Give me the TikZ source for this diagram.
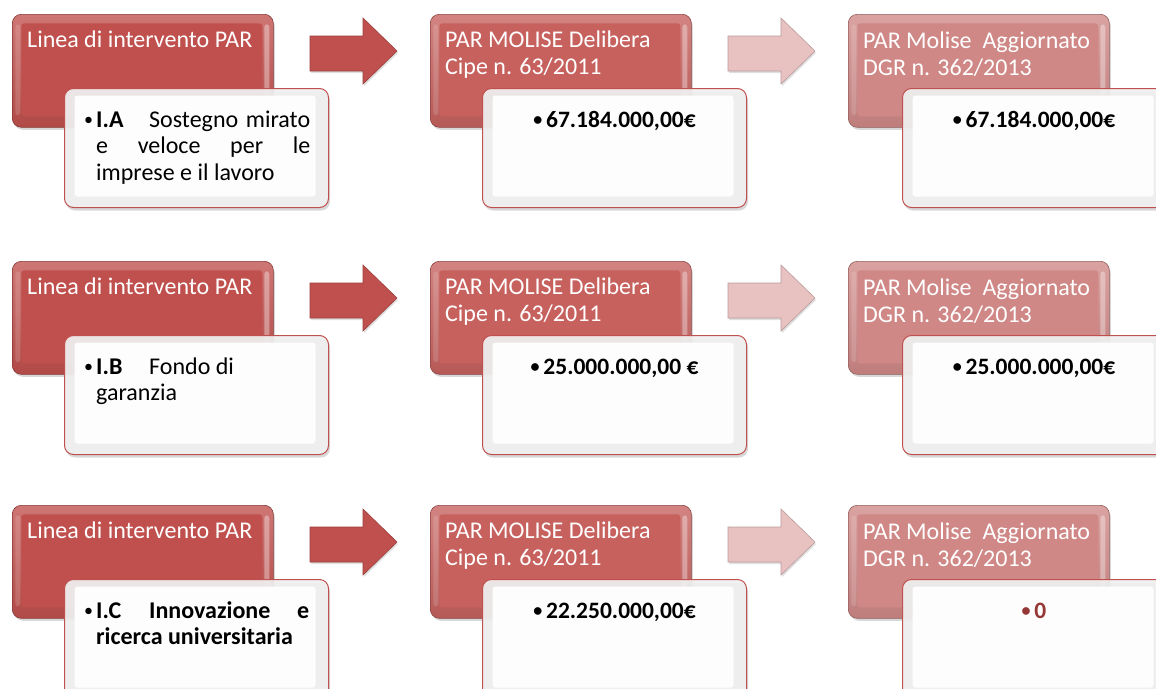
\documentclass[tikz,border=0pt]{standalone}
\usepackage{fontspec}
\setmainfont{Carlito}
\usetikzlibrary{shadows}
\definecolor{redA}{HTML}{C0504D}
\definecolor{redB}{HTML}{C6615E}
\definecolor{redC}{HTML}{CF8886}
\definecolor{arrA}{HTML}{C0504D}
\definecolor{arrB}{HTML}{E8C2C1}
\definecolor{wline}{HTML}{C0504D}
\definecolor{zeroc}{HTML}{953735}
\newcommand\bul{{\fontsize{18pt}{18pt}\selectfont\raisebox{1.5pt}{•}}}
\tikzset{
  redpanel/.style={rectangle, rounded corners=9pt, draw=#1!70!black, line width=0.6pt,
    top color=#1!78!white, bottom color=#1!92!black,
    minimum width=261pt, minimum height=113pt, anchor=north west, inner sep=0pt,
    drop shadow={shadow xshift=1.5pt, shadow yshift=-2.5pt, opacity=.3},
    path picture={
      \fill[#1, rounded corners=3pt] ([xshift=9pt,yshift=-9pt]path picture bounding box.north west)
         rectangle ([xshift=-11pt,yshift=11pt]path picture bounding box.south east);
      \fill[white, opacity=.35, rounded corners=3pt]
         ([xshift=-9pt,yshift=-10pt]path picture bounding box.north east)
         rectangle ([xshift=-4pt,yshift=12pt]path picture bounding box.south east);
      \fill[white, opacity=.15, rounded corners=3pt]
         ([xshift=3pt,yshift=-10pt]path picture bounding box.north west)
         rectangle ([xshift=8pt,yshift=12pt]path picture bounding box.south west);
    }},
  whitepanel/.style={rectangle, rounded corners=9pt, draw=wline, line width=1pt,
    fill=black!6, fill opacity=.93,
    minimum width=264pt, minimum height=119pt, anchor=north west, inner sep=0pt,
    drop shadow={shadow xshift=1.5pt, shadow yshift=-3pt, opacity=.3},
    path picture={
      \fill[white, rounded corners=3pt]
         ([xshift=10pt,yshift=-7pt]path picture bounding box.north west)
         rectangle ([xshift=-13pt,yshift=11pt]path picture bounding box.south east);
    }},
  arrowA/.style={fill=arrA, draw=arrA!80!black, line width=0.6pt,
    drop shadow={shadow xshift=1pt, shadow yshift=-2pt, opacity=.25}},
  arrowB/.style={fill=arrB, draw=arrB!80!black, line width=0.6pt,
    drop shadow={shadow xshift=1pt, shadow yshift=-2pt, opacity=.25}},
  headtxt/.style={anchor=base west, inner sep=0pt, text=white, font=\fontsize{24pt}{27pt}\selectfont},
  bodytxt/.style={anchor=base west, inner sep=0pt, text=black, font=\fontsize{24pt}{27pt}\selectfont},
  amttxt/.style={anchor=base, inner sep=0pt, text=black, font=\fontsize{23.5pt}{27pt}\selectfont\bfseries},
}
\newcommand\panelrow[2]{%
  \node[redpanel=redA] (hA#2) at (12,14+#1) {};
  \node[whitepanel] (wA#2) at (64,88+#1) {};
  \filldraw[arrowA] (310,36+#1) -- (363,36+#1) -- (363,18+#1) -- (397,51+#1)
     -- (363,84+#1) -- (363,71+#1) -- (310,71+#1) -- cycle;
  \node[redpanel=redB] (hB#2) at (430,14+#1) {};
  \node[whitepanel] (wB#2) at (482,88+#1) {};
  \filldraw[arrowB] (728,36+#1) -- (781,36+#1) -- (781,18+#1) -- (815,51+#1)
     -- (781,84+#1) -- (781,71+#1) -- (728,71+#1) -- cycle;
  \node[redpanel=redC] (hC#2) at (848,14+#1) {};
  \node[whitepanel] (wC#2) at (902,88+#1) {};
  \node[headtxt] (tA#2) at (27,47+#1) {Linea di intervento PAR};
  \node[headtxt] (tBa#2) at (445,47+#1) {PAR MOLISE Delibera};
  \node[headtxt] (tBb#2) at (445,74+#1) {Cipe n. 63/2011};
  \node[headtxt] (tCa#2) at (863,48+#1) {PAR Molise\ \ Aggiornato};
  \node[headtxt] (tCb#2) at (863,75+#1) {DGR n. 362/2013};
  \node[bodytxt] (bu#2) at (84,127+#1) {\bul};
}
\begin{document}
\begin{tikzpicture}[x=1pt,y=-1pt]
\useasboundingbox (0,0) rectangle (1156,688);
\fill[white] (0,0) rectangle (1156,688);
% row 1
\panelrow{0}{1}
\node[bodytxt] (lA11) at (96,127) {\makebox[53pt][l]{\textbf{I.A}}\hbox to 161pt{Sostegno\hfill mirato}};
\node[bodytxt] (lA12) at (96,153.5) {\hbox to 214pt{e\hfill veloce\hfill per\hfill le}};
\node[bodytxt] (lA13) at (96,180) {imprese e il lavoro};
\node[amttxt] (aB1) at (614.5,127) {\bul\,67.184.000,00€};
\node[amttxt] (aC1) at (1034,127) {\bul\,67.184.000,00€};
% row 2
\panelrow{247}{2}
\node[bodytxt] (lA21) at (96,374) {\makebox[53pt][l]{\textbf{I.B}}Fondo di};
\node[bodytxt] (lA22) at (96,400.5) {garanzia};
\node[amttxt] (aB2) at (614.5,374) {\bul\,25.000.000,00 €};
\node[amttxt] (aC2) at (1034,374) {\bul\,25.000.000,00€};
% row 3
\panelrow{491}{3}
\node[bodytxt] (lA31) at (96,618) {\makebox[53pt][l]{\textbf{I.C}}\hbox to 160pt{\textbf{Innovazione}\hfill\textbf{e}}};
\node[bodytxt] (lA32) at (96,644.5) {\textbf{ricerca universitaria}};
\node[amttxt] (aB3) at (614.5,618) {\bul\,22.250.000,00€};
\node[amttxt, text=zeroc] (aC3) at (1034,618) {\bul\,0};
\end{tikzpicture}
\end{document}
